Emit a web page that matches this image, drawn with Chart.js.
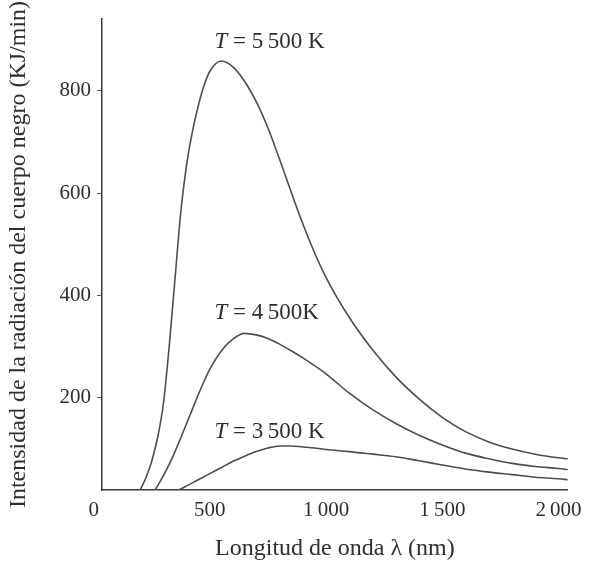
<!DOCTYPE html>
<html>
<head>
<meta charset="utf-8">
<script src="https://cdn.jsdelivr.net/npm/chart.js@4"></script>
<style>
  html, body { margin: 0; padding: 0; background: #fff; }
  #chartData { display: block; }
</style>
</head>
<body>
<canvas id="chartData" width="590" height="563"></canvas>
<script>
// wavelength (nm) sampled along the curves
const wavelengths = [200, 225, 250, 275, 300, 325, 350, 375, 400, 425, 450, 475, 500, 550, 600, 650, 700, 750, 800, 850, 900, 950, 1000, 1100, 1200, 1300, 1400, 1500, 1600, 1700, 1800, 1900, 2000, 2040];

// intensity (KJ/min)
const t5500 = [20, 44, 76, 122, 188, 300, 432, 563, 655, 720, 770, 810, 838, 858, 846, 818, 778, 727, 666, 602, 540, 484, 435, 357, 294, 241, 198, 162, 134, 114, 100, 90, 83, 81];
const t4500 = [0, 0, 12, 28, 48, 70, 95, 122, 150, 178, 206, 232, 256, 292, 315, 326, 323, 316, 305, 292, 278, 263, 247, 209, 177, 150, 127, 108, 92, 81, 72, 66, 62, 60];
const t3500 = [0, 0, 0, 0, 0, 0, 16, 22, 28, 34, 40, 46, 52, 64, 76, 86, 95, 102, 106, 106, 104, 102, 99, 95, 90, 85, 77, 69, 61, 55, 50, 45, 42, 40];

const xTicks = [0, 500, 1000, 1500, 2000];
const xTickLabels = ['0', '500', '1\u2009000', '1\u2009500', '2\u2009000'];
const yTicks = [200, 400, 600, 800];

const curveNames = ['5\u2009500 K', '4\u2009500K', '3\u2009500 K'];
const nameWavelength = [520, 520, 520];
const nameIntensity = [895, 365, 133];

const ink = '#2e2e2e';
const lineColor = '#4d4d4d';
const serif = '"Liberation Serif", "Times New Roman", serif';

const toPoints = values => wavelengths.map((w, i) => ({ x: w, y: values[i] }));

const curveLabels = {
  id: 'curveLabels',
  afterDatasetsDraw(chart) {
    const { ctx, scales: { x, y } } = chart;
    ctx.save();
    ctx.fillStyle = ink;
    ctx.textBaseline = 'middle';
    ctx.textAlign = 'left';
    curveNames.forEach((name, i) => {
      let px = x.getPixelForValue(nameWavelength[i]);
      const py = y.getPixelForValue(nameIntensity[i]);
      ctx.font = 'italic 23px ' + serif;
      ctx.fillText('T', px, py);
      px += ctx.measureText('T').width;
      ctx.font = '23px ' + serif;
      ctx.fillText(' = ' + name, px, py);
    });
    ctx.restore();
  }
};

const makeLine = values => ({
  data: toPoints(values),
  borderColor: lineColor,
  borderWidth: 1.6,
  pointRadius: 0,
  fill: false,
  cubicInterpolationMode: 'monotone'
});

const ctx = document.getElementById('chartData').getContext('2d');
new Chart(ctx, {
  type: 'line',
  data: {
    datasets: [makeLine(t5500), makeLine(t4500), makeLine(t3500)]
  },
  options: {
    responsive: false,
    animation: false,
    devicePixelRatio: 1,
    layout: { padding: { top: 19, right: 20, left: 0, bottom: 0 } },
    plugins: { legend: { display: false }, tooltip: { enabled: false } },
    scales: {
      x: {
        type: 'linear',
        min: 36,
        max: 2040,
        afterBuildTicks: scale => { scale.ticks = xTicks.map(v => ({ value: v })); },
        afterFit: scale => { scale.height = 73; },
        grid: { display: false, drawTicks: false },
        border: { display: true, color: '#3a3a3a', width: 1.5 },
        ticks: {
          autoSkip: false,
          maxRotation: 0,
          padding: 8,
          color: ink,
          font: { family: serif, size: 21 },
          callback: (v, i) => xTickLabels[i]
        },
        title: {
          display: true,
          text: 'Longitud de onda \u03bb (nm)',
          color: ink,
          font: { family: serif, size: 24 },
          padding: { top: 0, bottom: 0 }
        }
      },
      y: {
        min: 20,
        max: 940,
        afterBuildTicks: scale => { scale.ticks = yTicks.map(v => ({ value: v })); },
        afterFit: scale => { scale.width = 102; },
        grid: { drawOnChartArea: false, drawTicks: true, tickLength: 5, color: '#555', lineWidth: 1 },
        border: { display: true, color: '#3a3a3a', width: 1.5 },
        ticks: {
          padding: 6,
          color: ink,
          font: { family: serif, size: 21 }
        },
        title: {
          display: true,
          text: 'Intensidad de la radiación del cuerpo negro (KJ/min)',
          color: ink,
          font: { family: serif, size: 24 },
          padding: { top: 4, bottom: 0 }
        }
      }
    }
  },
  plugins: [curveLabels]
});
</script>
</body>
</html>
